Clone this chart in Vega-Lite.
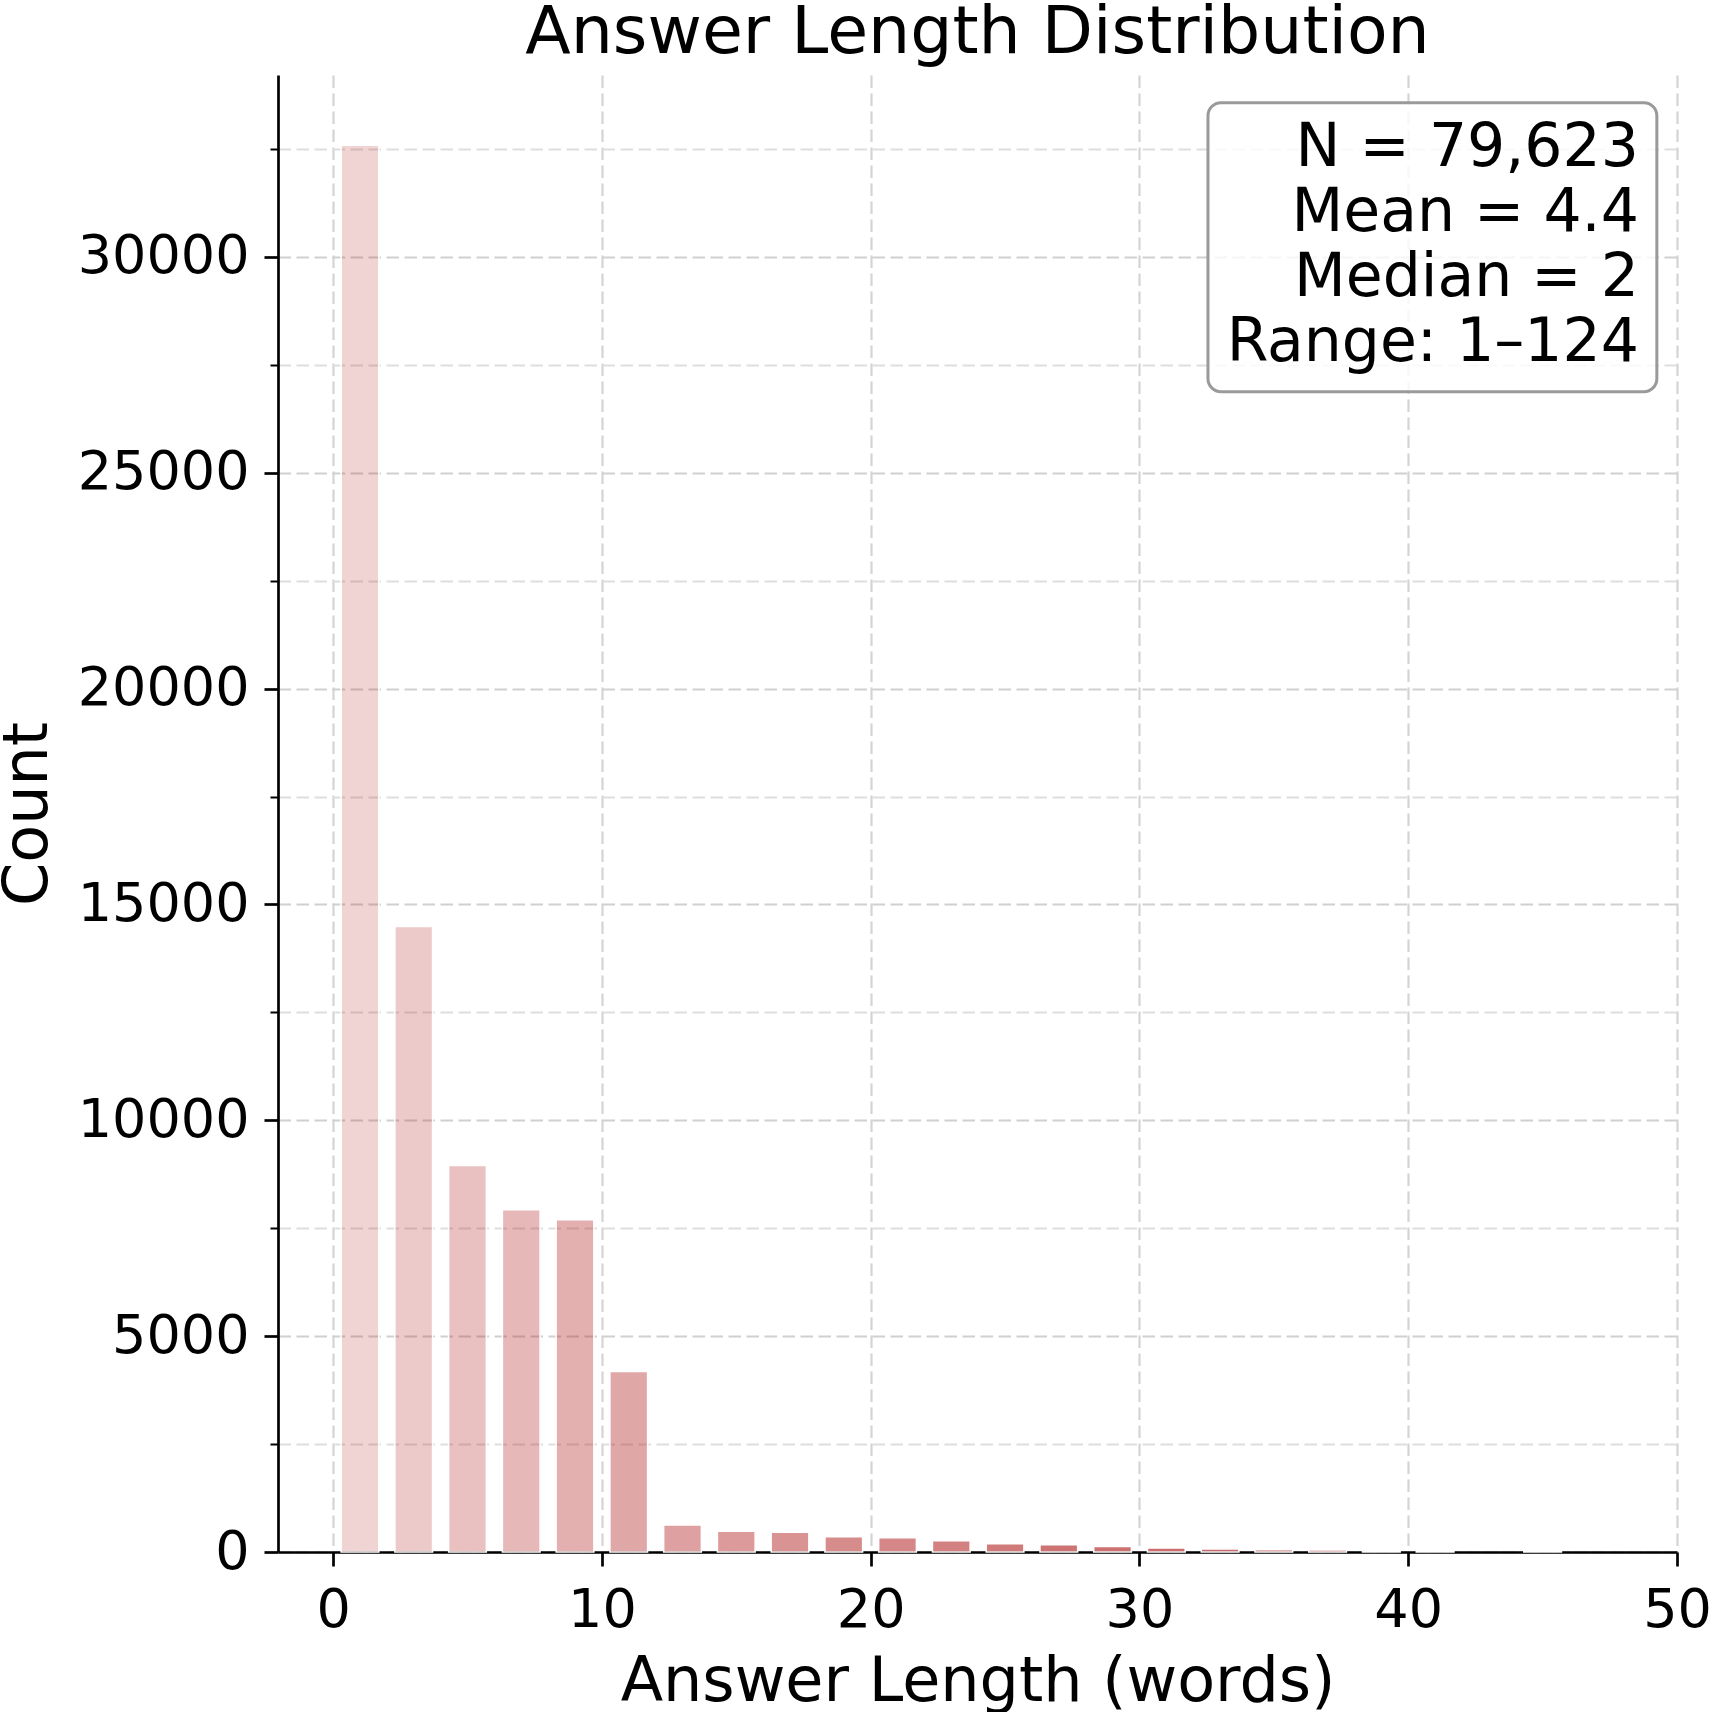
{
  "$schema": "https://vega.github.io/schema/vega-lite/v6.json",
  "width": 1399,
  "height": 1477,
  "autosize": {"type": "none"},
  "padding": {"left": 278, "top": 75, "right": 36, "bottom": 160},
  "background": "white",
  "config": {
    "font": "DejaVu Sans",
    "view": {"stroke": null}
  },
  "title": {
    "text": "Answer Length Distribution",
    "fontSize": 66.5,
    "fontWeight": "normal",
    "font": "DejaVu Sans",
    "color": "black",
    "anchor": "middle",
    "frame": "group",
    "offset": 9
  },
  "layer": [
    {
      "data": {
        "values": [
          {"length": 1, "count": 32587},
          {"length": 3, "count": 14490},
          {"length": 5, "count": 8956},
          {"length": 7, "count": 7929},
          {"length": 9, "count": 7697},
          {"length": 11, "count": 4180},
          {"length": 13, "count": 626},
          {"length": 15, "count": 478},
          {"length": 17, "count": 455},
          {"length": 19, "count": 355},
          {"length": 21, "count": 332},
          {"length": 23, "count": 262},
          {"length": 25, "count": 192},
          {"length": 27, "count": 169},
          {"length": 29, "count": 130},
          {"length": 31, "count": 93},
          {"length": 33, "count": 70},
          {"length": 35, "count": 53},
          {"length": 37, "count": 46},
          {"length": 39, "count": 30},
          {"length": 41, "count": 14},
          {"length": 45, "count": 10}
        ]
      },
      "mark": {"type": "bar", "width": 37.7, "fill": "#B22222", "stroke": "white", "strokeWidth": 1.5},
      "encoding": {
        "x": {
          "field": "length",
          "type": "quantitative",
          "scale": {"domain": [-2.05, 50], "nice": false, "zero": false, "padding": 0},
          "axis": {
            "values": [0, 10, 20, 30, 40, 50],
            "format": "d",
            "title": "Answer Length (words)",
            "titleFontSize": 62,
            "titleFontWeight": "normal",
            "titleColor": "black",
            "titleFont": "DejaVu Sans",
            "titlePadding": 14,
            "labelFont": "DejaVu Sans",
            "labelFontSize": 54,
            "labelColor": "black",
            "labelPadding": 17,
            "labelFlush": false,
            "labelOverlap": false,
            "tickSize": 14,
            "tickWidth": 2.7,
            "tickColor": "black",
            "domainColor": "black",
            "domainWidth": 2.7,
            "grid": true,
            "gridColor": "#d4d4d4",
            "gridDash": [12.5, 5.5],
            "gridWidth": 2.2
          }
        },
        "y": {
          "field": "count",
          "type": "quantitative",
          "scale": {"domain": [0, 34216], "nice": false, "padding": 0},
          "axis": {
            "values": [0, 2500, 5000, 7500, 10000, 12500, 15000, 17500, 20000, 22500, 25000, 27500, 30000, 32500],
            "format": "d",
            "labelExpr": "datum.value % 5000 === 0 ? datum.label : ''",
            "title": "Count",
            "titleFontSize": 62,
            "titleFontWeight": "normal",
            "titleColor": "black",
            "titleFont": "DejaVu Sans",
            "titlePadding": 19,
            "labelFont": "DejaVu Sans",
            "labelFontSize": 54,
            "labelColor": "black",
            "labelPadding": 15,
            "labelOverlap": false,
            "tickSize": {"condition": {"test": "datum.value % 5000 === 0", "value": 14}, "value": 8},
            "tickWidth": {"condition": {"test": "datum.value % 5000 === 0", "value": 2.7}, "value": 2},
            "tickColor": "black",
            "domainColor": "black",
            "domainWidth": 2.7,
            "grid": true,
            "gridColor": {"condition": {"test": "datum.value % 5000 === 0", "value": "#d0d0d0"}, "value": "#dedede"},
            "gridDash": [12.5, 5.5],
            "gridWidth": 2.2
          }
        },
        "fillOpacity": {
          "field": "length",
          "type": "quantitative",
          "scale": {"domain": [1, 11, 19, 27, 49], "range": [0.2, 0.4, 0.52, 0.63, 0.8]},
          "legend": null
        }
      }
    },
    {
      "data": {"values": [{}]},
      "mark": {"type": "rect", "fill": "white", "fillOpacity": 0.8, "stroke": "#9a9a9a", "strokeWidth": 3, "cornerRadius": 13},
      "encoding": {
        "x": {"datum": 32.55, "type": "quantitative"},
        "x2": {"datum": 49.25},
        "y": {"datum": 33574, "type": "quantitative"},
        "y2": {"datum": 26880}
      }
    },
    {
      "data": {"values": [{}]},
      "mark": {
        "type": "text",
        "text": ["N = 79,623", "Mean = 4.4", "Median = 2", "Range: 1–124"],
        "align": "right",
        "baseline": "alphabetic",
        "fontSize": 60,
        "lineHeight": 65,
        "font": "DejaVu Sans",
        "color": "black"
      },
      "encoding": {
        "x": {"datum": 48.58, "type": "quantitative"},
        "y": {"datum": 32108, "type": "quantitative"}
      }
    }
  ]
}
